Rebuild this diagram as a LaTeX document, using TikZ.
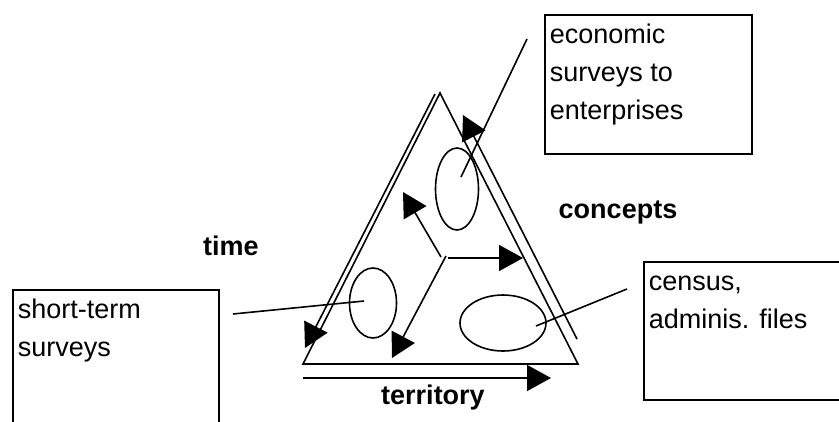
\documentclass[tikz,border=0pt]{standalone}
\usepackage{fontspec}
\setmainfont{Liberation Sans}
\usetikzlibrary{arrows.meta,shapes.geometric}

\newcommand{\cardtext}[3]{\parbox[t][#2][t]{#1}{\rule{0pt}{29pt}#3}}

\begin{document}
\begin{tikzpicture}[x=1pt,y=-1pt,line width=1.6pt,
	tip/.style={-{Triangle[length=24pt,width=26pt]}},
	card/.style={draw, anchor=north west, inner xsep=5pt, inner ysep=0pt, font=\fontsize{27}{38}\selectfont},
	oval/.style={draw, ellipse, inner sep=0pt},
	axis/.style={anchor=base, font=\fontsize{27}{32}\selectfont\bfseries}]

\useasboundingbox (0,0) rectangle (839,421);

% triangle
\coordinate (apex) at (440,93);
\coordinate (left) at (303,364);
\coordinate (right) at (578,364);
\draw (apex)--(left)--(right)--cycle;

% axes along the sides
\coordinate (timetop) at (435,94);
\coordinate (timeend) at (305,348);
\coordinate (conbot) at (577,339);
\coordinate (contop) at (463,115);
\coordinate (terstart) at (303,378);
\coordinate (terend) at (551,378);
\draw[tip] (timetop)--(timeend);
\draw[tip] (conbot)--(contop);
\draw[tip] (terstart)--(terend);

\node[axis] (time) at (231,255) {time};
\node[axis] (concepts) at (618,218) {concepts};
\node[axis] (territory) at (433,404) {territory};

% arrows from the middle
\coordinate (hubA) at (441,257);
\coordinate (hubB) at (448,258);
\coordinate (hubC) at (446,256);
\coordinate (tipA) at (403,192);
\coordinate (tipB) at (523,258);
\coordinate (tipC) at (392,358);
\draw[tip] (hubA)--(tipA);
\draw[tip] (hubB)--(tipB);
\draw[tip] (hubC)--(tipC);

% ovals
\node[oval, minimum width=43pt, minimum height=82pt] (ecooval) at (457,189) {};
\node[oval, minimum width=47pt, minimum height=70pt] (shortoval) at (373,303) {};
\node[oval, minimum width=86pt, minimum height=56pt] (censusoval) at (503,323) {};

% boxes
\node[card] (ecobox) at (544,14) {\cardtext{197pt}{139pt}{economic\\surveys to\\enterprises}};
\node[card] (shortbox) at (12,289) {\cardtext{196pt}{150pt}{short-term\\surveys}};
\node[card] (censusbox) at (643,261) {\cardtext{220pt}{138pt}{census,\\adminis. files}};

% leaders
\coordinate (ecoend) at (527,39);
\coordinate (shortend) at (233,314);
\coordinate (censusend) at (627,289);
\draw ([shift={(4,-12)}]ecooval.center)--(ecoend);
\draw ([shift={(-9,-2)}]shortoval.center)--(shortend);
\draw ([shift={(33,3)}]censusoval.center)--(censusend);

\end{tikzpicture}
\end{document}
